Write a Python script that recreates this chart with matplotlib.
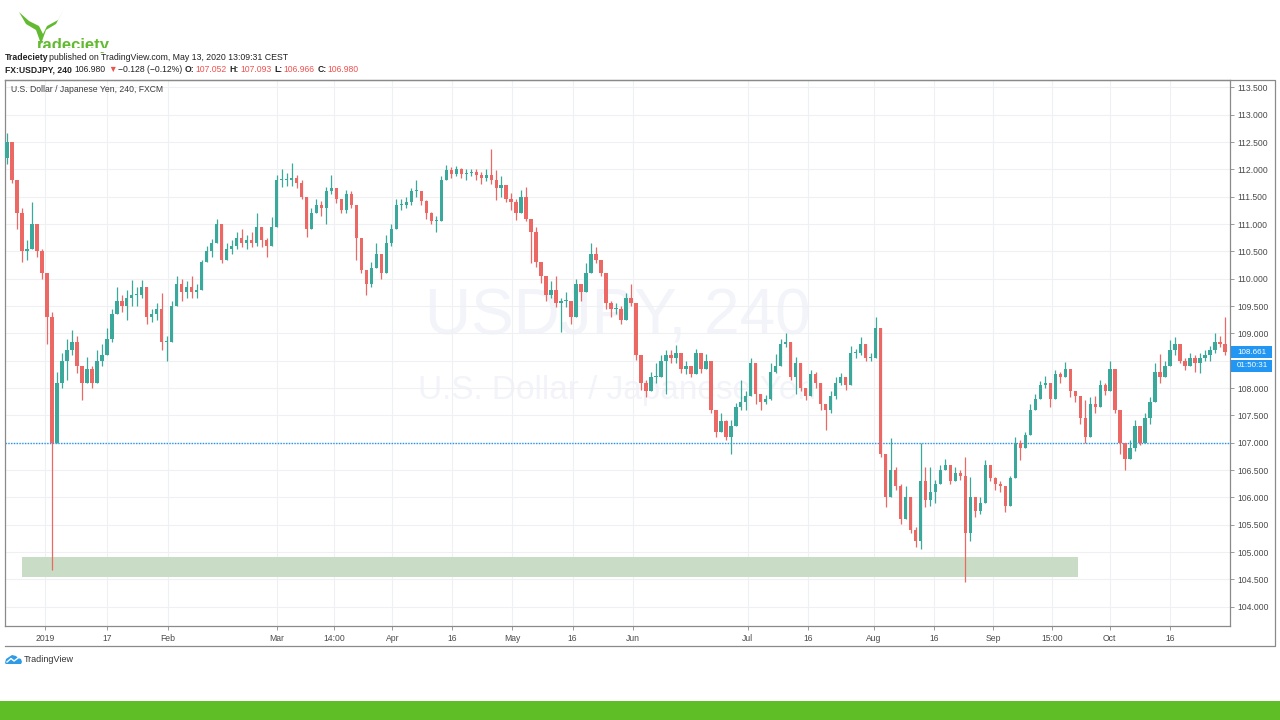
import numpy as np
import matplotlib.pyplot as plt
from matplotlib.patches import Rectangle, Polygon

plt.rcParams['font.family'] = ['Liberation Sans', 'DejaVu Sans']

# ---------------------------------------
# Data: USDJPY 240 (one candle per ~5 px)
# ---------------------------------------

first_open = 112.2

close = [
    112.5, 111.8, 111.2, 110.5, 110.55, 111.0, 110.5, 110.1, 109.3, 107.0,
    108.1, 108.5, 108.7, 108.85, 108.4, 108.1, 108.35, 108.1, 108.5, 108.6,
    108.9, 109.35, 109.6, 109.5, 109.65, 109.7, 109.7, 109.85, 109.3, 109.35,
    109.45, 108.85, 108.85, 109.5, 109.9, 109.75, 109.85, 109.75, 109.8, 110.3,
    110.5, 110.65, 111.0, 110.35, 110.55, 110.6, 110.75, 110.65, 110.7, 110.65,
    110.95, 110.7, 110.6, 110.95, 111.8, 111.8, 111.8, 111.85, 111.75, 111.5,
    110.9, 111.2, 111.35, 111.3, 111.6, 111.65, 111.45, 111.25, 111.55, 111.35,
    110.75, 110.15, 109.9, 110.2, 110.45, 110.1, 110.65, 110.9, 111.35, 111.35,
    111.4, 111.6, 111.6, 111.42, 111.2, 111.05, 111.05, 111.8, 111.98, 111.92,
    112.0, 111.92, 111.93, 111.95, 111.9, 111.85, 111.9, 111.8, 111.65, 111.72,
    111.45, 111.4, 111.2, 111.5, 111.1, 110.85, 110.3, 110.05, 109.7, 109.8,
    109.55, 109.6, 109.6, 109.3, 109.9, 109.75, 110.1, 110.45, 110.35, 110.1,
    109.55, 109.45, 109.45, 109.25, 109.65, 109.55, 108.6, 108.1, 107.95, 108.2,
    108.2, 108.5, 108.6, 108.55, 108.65, 108.35, 108.4, 108.25, 108.65, 108.35,
    108.5, 107.6, 107.2, 107.4, 107.1, 107.3, 107.65, 107.75, 107.85, 108.45,
    107.9, 107.75, 107.8, 108.3, 108.4, 108.8, 108.85, 108.2, 108.45, 108.0,
    107.85, 108.25, 108.1, 107.7, 107.6, 107.85, 108.1, 108.2, 108.05, 108.65,
    108.65, 108.8, 108.55, 108.55, 109.1, 106.8, 106.0, 106.5, 106.2, 105.6,
    106.0, 105.4, 105.2, 106.3, 105.95, 106.1, 106.25, 106.5, 106.6, 106.3,
    106.45, 106.4, 105.35, 106.0, 105.75, 105.9, 106.6, 106.35, 106.25, 106.2,
    105.85, 106.35, 107.0, 106.9, 107.15, 107.6, 107.8, 108.05, 108.1, 107.8,
    108.25, 108.2, 108.35, 107.95, 107.85, 107.45, 107.1, 107.7, 107.65, 108.05,
    107.95, 108.35, 107.6, 107.0, 106.7, 106.9, 107.3, 107.0, 107.45, 107.75,
    108.3, 108.2, 108.4, 108.7, 108.8, 108.5, 108.4, 108.55, 108.45, 108.55,
    108.6, 108.7, 108.85, 108.8, 108.66,
]

high = [
    112.66, 112.5, 111.8, 111.3, 110.7, 111.4, 111.0, 110.55, 110.1, 109.4,
    108.3, 108.65, 108.9, 109.06, 108.95, 108.4, 108.57, 108.4, 108.7, 108.8,
    109.1, 109.45, 109.85, 109.7, 109.8, 109.98, 109.85, 109.98, 109.85, 109.45,
    109.55, 109.73, 108.95, 109.6, 110.05, 110.0, 109.95, 110.05, 109.9, 110.35,
    110.6, 110.72, 111.1, 111.0, 110.65, 110.7, 110.85, 110.9, 110.8, 110.85,
    111.2, 110.95, 110.75, 111.13, 111.9, 112.0, 111.93, 112.12, 111.9, 111.8,
    111.5, 111.3, 111.45, 111.42, 111.68, 111.9, 111.6, 111.45, 111.62, 111.6,
    111.35, 110.75, 110.15, 110.3, 110.65, 110.45, 110.8, 111.0, 111.45, 111.45,
    111.5, 111.65, 111.8, 111.6, 111.44, 111.22, 111.15, 111.87, 112.08, 112.05,
    112.07, 112.02, 112.0, 112.0, 112.0, 111.95, 112.0, 112.38, 111.99, 111.87,
    111.72, 111.56, 111.45, 111.62, 111.68, 111.1, 110.95, 110.3, 110.05, 109.95,
    110.05, 109.65, 109.75, 109.6, 110.0, 109.9, 110.28, 110.65, 110.58, 110.35,
    110.1, 109.6, 109.55, 109.5, 109.73, 109.91, 109.55, 108.6, 108.15, 108.3,
    108.45, 108.6, 108.7, 108.7, 108.78, 108.6, 108.5, 108.4, 108.72, 108.65,
    108.63, 108.5, 107.6, 107.55, 107.42, 107.41, 107.72, 108.15, 107.95, 108.55,
    108.45, 107.9, 107.88, 108.45, 108.63, 108.9, 109.0, 108.85, 108.57, 108.45,
    108.0, 108.33, 108.3, 108.1, 107.7, 107.95, 108.21, 108.27, 108.2, 108.76,
    108.72, 108.94, 108.8, 108.65, 109.3, 109.1, 106.8, 107.08, 106.56, 106.25,
    106.2, 106.0, 105.45, 106.99, 106.56, 106.56, 106.32, 106.6, 106.7, 106.6,
    106.56, 106.5, 106.74, 106.38, 106.0, 106.01, 106.68, 106.6, 106.38, 106.3,
    106.2, 106.4, 107.11, 107.05, 107.2, 107.7, 107.9, 108.12, 108.22, 108.1,
    108.33, 108.3, 108.48, 108.35, 107.95, 107.85, 107.78, 107.84, 107.85, 108.15,
    108.1, 108.5, 108.35, 107.6, 107.0, 107.05, 107.41, 107.3, 107.55, 107.84,
    108.45, 108.63, 108.5, 108.88, 108.94, 108.8, 108.55, 108.65, 108.6, 108.65,
    108.7, 108.76, 109.0, 108.95, 109.3,
]

low = [
    112.1, 111.75, 110.9, 110.3, 110.35, 110.55, 110.4, 110.0, 108.8, 104.67,
    107.1, 108.0, 108.15, 108.6, 108.27, 107.78, 108.1, 108.0, 108.1, 108.4,
    108.6, 108.85, 109.35, 109.4, 109.24, 109.5, 109.5, 109.65, 109.18, 109.2,
    109.25, 108.7, 108.5, 108.85, 109.5, 109.6, 109.65, 109.65, 109.65, 109.8,
    110.3, 110.4, 110.65, 110.28, 110.35, 110.45, 110.55, 110.58, 110.55, 110.58,
    110.6, 110.58, 110.4, 110.6, 110.95, 111.68, 111.7, 111.7, 111.65, 111.45,
    110.77, 110.9, 111.2, 111.15, 111.0, 111.55, 111.38, 111.2, 111.2, 111.3,
    110.34, 110.1, 109.7, 109.85, 110.2, 110.0, 110.1, 110.6, 110.9, 111.25,
    111.3, 111.35, 111.5, 111.35, 111.1, 111.0, 110.85, 111.05, 111.8, 111.85,
    111.88, 111.85, 111.8, 111.88, 111.8, 111.74, 111.78, 111.74, 111.44, 111.5,
    111.4, 111.26, 111.07, 111.2, 111.05, 110.28, 110.22, 109.92, 109.6, 109.65,
    109.49, 109.03, 109.49, 109.18, 109.3, 109.6, 109.75, 110.1, 110.28, 110.05,
    109.45, 109.3, 109.35, 109.18, 109.25, 109.5, 108.51, 107.96, 107.84, 107.95,
    108.09, 108.2, 107.9, 108.45, 108.45, 108.27, 108.25, 108.2, 108.25, 108.27,
    108.35, 107.54, 107.11, 107.2, 107.05, 106.8, 107.3, 107.6, 107.6, 107.85,
    107.7, 107.6, 107.7, 107.78, 108.27, 108.4, 108.75, 108.15, 107.9, 107.95,
    107.78, 107.85, 108.0, 107.6, 107.23, 107.55, 107.8, 108.05, 107.96, 108.05,
    108.55, 108.6, 108.5, 108.5, 108.55, 106.74, 105.83, 106.0, 106.13, 105.52,
    105.6, 105.34, 105.1, 105.06, 105.83, 105.85, 105.89, 106.25, 106.5, 106.25,
    106.3, 106.32, 104.46, 105.2, 105.65, 105.7, 105.9, 106.3, 106.13, 106.1,
    105.74, 105.85, 106.35, 106.68, 106.9, 107.15, 107.6, 107.8, 108.0, 107.66,
    107.8, 108.1, 108.2, 107.84, 107.75, 107.35, 107.0, 107.1, 107.55, 107.65,
    107.88, 107.95, 107.54, 106.8, 106.5, 106.7, 106.85, 106.95, 107.0, 107.35,
    107.75, 108.09, 108.2, 108.4, 108.6, 108.45, 108.33, 108.4, 108.3, 108.27,
    108.5, 108.5, 108.65, 108.75, 108.6,
]

price_ticks = np.arange(104.0, 113.51, 0.5)
time_tick_pos = [7.6, 20, 32.3, 54, 65.5, 77.2, 89.2, 101.2, 113.3, 125.4,
                 148.4, 160.4, 173.7, 185.8, 197.6, 209.3, 220.9, 233.0]
time_tick_labels = ["2019", "17", "Feb", "Mar", "14:00", "Apr", "16", "May", "16", "Jun",
                    "Jul", "16", "Aug", "16", "Sep", "15:00", "Oct", "16"]

zone_low, zone_high = 104.545, 104.91
zone_start, zone_end = 3.0, 214.6
level = 107.0
last_price = 108.661

# ---------------------------------------
# Candles
# ---------------------------------------

c = np.array(close)
o = np.concatenate([[first_open], c[:-1]])
h = np.maximum(np.array(high), np.maximum(o, c))
l = np.minimum(np.array(low), np.minimum(o, c))
x = np.arange(len(c))
up = c >= o
up_col, dn_col = "#3aa99b", "#ec6864"
cols = np.where(up, up_col, dn_col)

fig = plt.figure(figsize=(12.8, 7.2), dpi=100)
fig.patch.set_facecolor("white")

ax = fig.add_axes([5 / 1280, (720 - 626) / 720, 1225 / 1280, 546 / 720])
ax.set_xlim(-0.4, 245.0)
ax.set_ylim(103.648, 113.634)

ax.text(0.5, 0.565, "USDJPY, 240", transform=ax.transAxes, ha="center", va="center",
        fontsize=46, color="#f2f4f9", zorder=0)
ax.text(0.5, 0.432, "U.S. Dollar / Japanese Yen", transform=ax.transAxes, ha="center",
        va="center", fontsize=24, color="#f2f4f9", zorder=0)

ax.add_patch(Rectangle((zone_start, zone_low), zone_end - zone_start, zone_high - zone_low,
                       facecolor="#c9dcc5", edgecolor="none", zorder=1))
ax.axhline(level, color="#2196f3", lw=1.0, ls=(0, (1, 1)), zorder=2)

ax.vlines(x, l, h, colors=cols, lw=0.9, zorder=3)
ax.bar(x, np.maximum(np.abs(c - o), 0.015), bottom=np.minimum(o, c), width=0.68,
       color=cols, edgecolor="none", zorder=4)

# axes styling (108.500 sits under the last-price label, as in the original)
ax.yaxis.tick_right()
ax.set_yticks(price_ticks)
ax.set_yticklabels(["" if abs(p - 108.5) < 1e-6 else f"{p:.3f}" for p in price_ticks])
ax.set_xticks(time_tick_pos)
ax.set_xticklabels(time_tick_labels)
ax.tick_params(axis="both", labelsize=6.2, colors="#8a8a8a", labelcolor="#4a4a4a",
               length=3, width=0.6, pad=2.5)
ax.grid(True, color="#eef0f4", lw=0.8, zorder=0)
ax.set_axisbelow(True)
for s in ax.spines.values():
    s.set_color("#8a8a8a")
    s.set_linewidth(0.9)

ax.text(0.005, 0.983, "U.S. Dollar / Japanese Yen, 240, FXCM", transform=ax.transAxes,
        ha="left", va="center", fontsize=6.2, color="#3c3c3c")

# ---------------------------------------
# Overlay: header, frame, labels, footer
# ---------------------------------------

ov = fig.add_axes([0, 0, 1, 1])
ov.set_xlim(0, 1280)
ov.set_ylim(720, 0)
ov.axis("off")

# outer frame
ov.plot([5, 1275, 1275, 5], [80, 80, 646, 646], color="#8a8a8a", lw=0.9)

# last price labels
ov.add_patch(Rectangle((1231, 346), 41, 12, facecolor="#2196f3", edgecolor="none"))
ov.add_patch(Rectangle((1231, 359.5), 41, 12, facecolor="#2196f3", edgecolor="none"))
ov.text(1252, 352, f"{last_price:.3f}", ha="center", va="center", fontsize=5.8, color="white")
ov.text(1252, 365.5, "01:50:31", ha="center", va="center", fontsize=5.8, color="white")

# logo
horns = [(19, 12), (26, 24), (36, 30), (41, 44), (46, 30), (56, 24), (64, 9),
         (58, 20), (47, 26), (43, 34), (39, 26), (29, 21)]
ov.add_patch(Polygon(horns, closed=True, facecolor="#62ba30", edgecolor="none"))
ov.text(37, 50, "radeciety", ha="left", va="baseline", fontsize=12, color="#62ba30",
        fontweight="bold")
ov.add_patch(Rectangle((30, 48), 100, 4, facecolor="white", edgecolor="none", zorder=5))

# header lines
ov.text(5, 57, "Tradeciety", ha="left", va="center", fontsize=6.3, fontweight="bold", color="#222")
ov.text(49, 57, "published on TradingView.com, May 13, 2020 13:09:31 CEST", ha="left",
        va="center", fontsize=6.3, color="#222")

fig.canvas.draw()
renderer = fig.canvas.get_renderer()

red = "#ef5350"
parts = [
    ("FX:USDJPY, 240", "#222", "bold", 3),
    ("106.980", "#222", "normal", 2),
    ("\u25bc", red, "normal", 1),
    ("\u22120.128 (\u22120.12%)", "#222", "normal", 3),
    ("O:", "#222", "bold", 1),
    ("107.052", red, "normal", 3),
    ("H:", "#222", "bold", 1),
    ("107.093", red, "normal", 3),
    ("L:", "#222", "bold", 1),
    ("106.966", red, "normal", 3),
    ("C:", "#222", "bold", 1),
    ("106.980", red, "normal", 0),
]
px = 5
for s, col, fw, gap in parts:
    t = ov.text(px, 69.5, s, ha="left", va="center", fontsize=6.2, color=col, fontweight=fw)
    bb = t.get_window_extent(renderer=renderer)
    px = bb.x1 + gap

# TradingView mark
cloud = [(5, 663), (6, 659), (9, 657), (12, 655), (16, 656), (18, 658), (21, 659),
         (22, 662), (21, 664), (6, 664)]
ov.add_patch(Polygon(cloud, closed=True, facecolor="#2e9be6", edgecolor="none"))
ov.plot([7, 11, 14, 18], [662, 658.5, 661, 658], color="white", lw=1.0)
ov.text(24, 659.5, "TradingView", ha="left", va="center", fontsize=6.5, color="#333")

# footer band
ov.add_patch(Rectangle((0, 701), 1280, 19, facecolor="#5fbd26", edgecolor="none"))

fig.savefig("out.png", dpi=100)
